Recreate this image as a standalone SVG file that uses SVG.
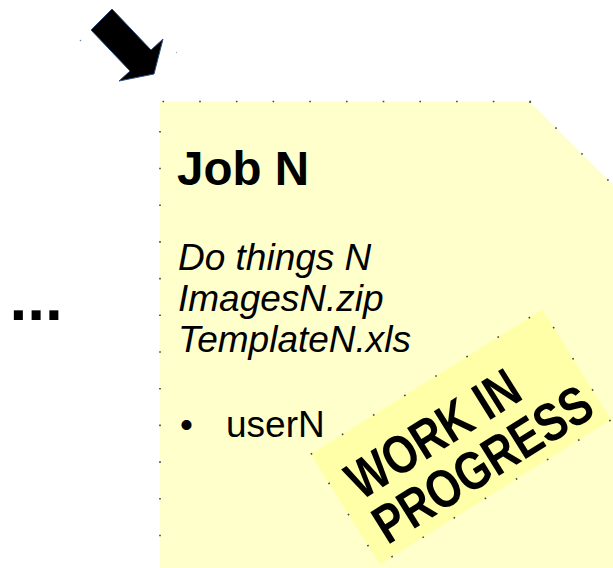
<svg xmlns="http://www.w3.org/2000/svg" width="613" height="568" viewBox="0 0 613 568">
<style>
.t{font-family:"Liberation Sans",Arial,sans-serif;fill:#000}
.dots{fill:none;stroke:#444;stroke-width:1.6;stroke-dasharray:1.6 35.1}
</style>
<rect width="613" height="568" fill="#fff"/>
<g id="arrow">
<polygon points="91,30 112,9 151,50 163,39 154,74 119,81 130,71" fill="#000" stroke="#2d4f80" stroke-width="1"/>
<circle cx="80.5" cy="40.5" r="0.8" fill="#6a8ab0"/>
<circle cx="176.5" cy="52.5" r="0.7" fill="#aab"/>
</g>
<g id="ellipsis">
<text class="t" x="9.5" y="320" font-size="64" font-weight="bold">...</text>
</g>
<g id="job">
<path d="M160,568 L160,101.5 L529.5,101.5 L613,185 L613,568 Z" fill="#ffffcc"/>
<line class="dots" x1="162.5" y1="101.5" x2="540" y2="101.5"/>
<line class="dots" x1="160" y1="131" x2="160" y2="568"/>
<line class="dots" x1="529.5" y1="101.5" x2="613" y2="185"/>
<text class="t" x="177" y="184.5" font-size="47.5" font-weight="bold">Job N</text>
<text class="t" font-size="37" font-style="italic"><tspan x="178" y="270">Do things N</tspan><tspan x="178" y="311">ImagesN.zip</tspan><tspan x="178" y="352">TemplateN.xls</tspan></text>
<text class="t" x="180" y="437" font-size="37">•</text>
<text class="t" x="226" y="437" font-size="37">userN</text>
</g>
<g id="wip" transform="translate(461,437) rotate(-32)">
<rect x="-136.5" y="-65" width="273" height="130" fill="#ffffa8"/>
<rect class="dots" x="-136.5" y="-65" width="273" height="130"/>
<g transform="translate(-22,1) scale(0.97,1.2)"><text class="t" x="0" y="0" font-size="45" font-weight="bold" text-anchor="middle">WORK IN</text></g>
<g transform="translate(4,53) scale(0.97,1.2)"><text class="t" x="0" y="0" font-size="45" font-weight="bold" text-anchor="middle">PROGRESS</text></g>
</g>
</svg>
